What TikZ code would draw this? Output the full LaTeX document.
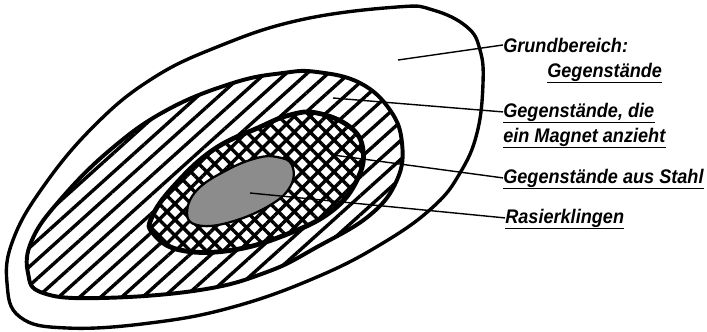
\documentclass[tikz,border=0pt]{standalone}
\usepackage{fontspec}
\setmainfont{Liberation Sans}
\usepackage{tikz}
\usetikzlibrary{patterns.meta}

\begin{document}
\begin{tikzpicture}[
  x=0.025cm, y=-0.025cm,
  rand/.style={line width=2.4pt, line join=round},
  magnetfl/.style={line width=2.8pt, preaction={fill=white},
    pattern={Lines[angle=42, distance=10pt, line width=2.4pt]}},
  stahlfl/.style={line width=3.4pt, preaction={fill=white},
    pattern={Hatch[angle=45, distance=8pt, line width=2.4pt]}},
  klingenfl/.style={line width=1.6pt, fill=black!45},
  leader/.style={line width=1pt},
  ul/.style={line width=1.4pt},
  lbl/.style={font=\fontsize{14}{16}\selectfont\bfseries\itshape
    \addfontfeature{FakeStretch=0.92}, inner sep=0pt, anchor=base west},
]
  \useasboundingbox (0,0) rectangle (707,331);

  %% Grundbereich
  \draw[rand] plot[smooth cycle, tension=0.7] coordinates {
    (397,7) (433,10) (467,27) (480,50) (483,83) (477,133) (460,173)
    (433,207) (383,243) (317,277) (233,307) (150,323) (67,328) (20,317)
    (7,283) (13,240) (43,187) (93,127) (150,80) (217,47) (300,20)};

  %% Gegenstaende, die ein Magnet anzieht
  \draw[magnetfl] plot[smooth cycle, tension=0.7] coordinates {
    (317,72) (360,83) (390,110) (402,143) (397,180) (370,215) (317,247)
    (267,272) (200,290) (100,298) (43,293) (28,273) (32,240) (60,200)
    (110,150) (167,110) (233,83) (283,73)};

  %% Gegenstaende aus Stahl
  \draw[stahlfl] plot[smooth cycle, tension=0.7] coordinates {
    (317,113) (350,127) (363,150) (357,180) (333,210) (290,233) (233,250)
    (180,250) (153,233) (152,217) (173,187) (213,150) (260,127) (290,115)};

  %% Rasierklingen
  \draw[klingenfl] plot[smooth cycle, tension=0.7] coordinates {
    (277,157) (292,165) (290,187) (267,207) (227,223) (197,225) (187,213)
    (197,190) (227,170) (257,158)};

  %% Beschriftung
  \node[lbl] (grund)   at (503,52)  {Grundbereich:};
  \node[lbl] (gegen)   at (547,77)  {Gegenstände};
  \node[lbl] (magnet)  at (503,117) {Gegenstände, die};
  \node[lbl] (anzieht) at (503,142) {ein Magnet anzieht};
  \node[lbl] (stahl)   at (503,183) {Gegenstände aus Stahl};
  \node[lbl] (klingen) at (505,223) {Rasierklingen};

  \foreach \n in {gegen, magnet, anzieht, stahl, klingen}
    \draw[ul] ([yshift=-0.8pt]\n.south west) -- ([yshift=-0.8pt]\n.south east);

  %% Hinweislinien
  \coordinate (pg) at (398,60);
  \coordinate (pm) at (333,98);
  \coordinate (ps) at (333,155);
  \coordinate (pk) at (250,193);
  \draw[leader] (pg) -- (grund.west);
  \draw[leader] (pm) -- (magnet.west);
  \draw[leader] (ps) -- (stahl.west);
  \draw[leader] (pk) -- (klingen.west);
\end{tikzpicture}
\end{document}
